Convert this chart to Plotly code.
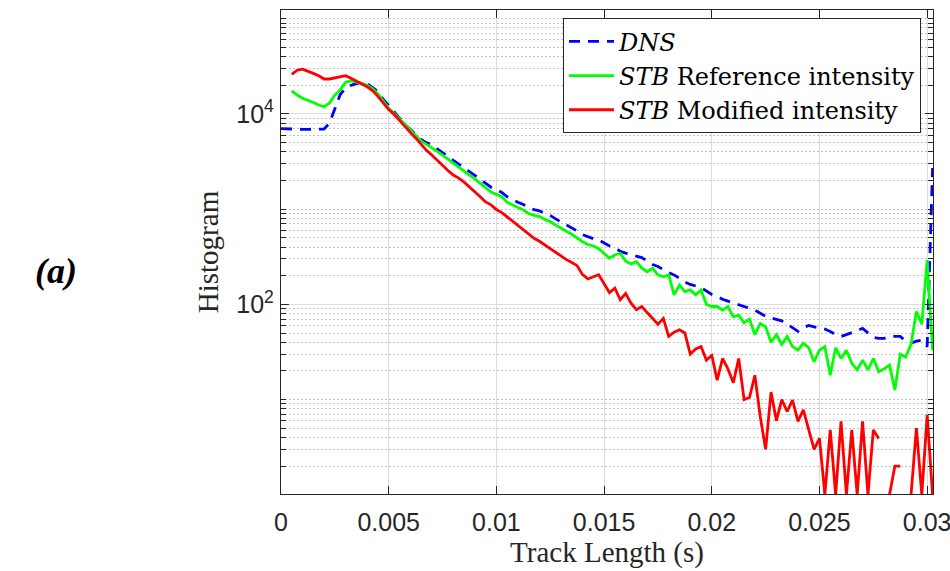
import numpy as np
import plotly.graph_objects as go

# bin centres of the track-length histogram (s)
bin_width = 0.00025
track_length = np.arange(122) * bin_width

dns = [
    7000, 6950, 6900, 6950, 6900, 6900, 6950, 6900, 6950, 8000,
    11500, 16000, 18800, 20000, 20800, 21700, 20800, 19000, 17200, 14200,
    12200, 10500, 9100, 7800, 6900, 6100, 5400, 5000, 4750, 4300,
    3950, 3600, 3250, 2950, 2680, 2480, 2270, 2050, 1880, 1700,
    1600, 1500, 1350, 1250, 1180, 1120, 1030, 990, 960, 900,
    860, 790, 735, 690, 640, 590, 540, 510, 490, 475,
    445, 410, 395, 360, 345, 335, 325, 310, 285, 262,
    250, 232, 215, 204, 188, 172, 162, 155, 150, 138,
    127, 122, 113, 108, 103, 99, 95, 91, 87, 80,
    75, 72, 70, 67, 62, 57, 52, 57, 60, 58,
    56, 55, 52, 48, 46, 48, 50, 53, 56, 50,
    45, 44, 44, 46, 46, 46, 41, 39, 41, 42,
    36, 2700,
]

stb_reference = [
    None, None, 17500, 15800, 14600, 14000, 13200, 12400, 11900, 13000,
    15800, 17900, 21500, 22300, 21800, 21000, 20000, 18500, 16200, 13500,
    11500, 10200, 8900, 7650, 6700, 5950, 5200, 4800, 4450, 4050,
    3700, 3350, 3050, 2750, 2480, 2280, 2080, 1870, 1700, 1510,
    1430, 1350, 1180, 1100, 1040, 980, 900, 860, 835, 780,
    740, 680, 625, 585, 545, 495, 455, 425, 410, 385,
    345, 305, 330, 344, 285, 266, 280, 240, 220, 239,
    204, 195, 204, 126, 160, 136, 142, 126, 142, 100,
    95, 95, 87, 95, 74, 77, 64, 70, 48, 63,
    58, 40, 48, 38, 46, 36, 33, 39, 35, 25,
    33, 36, 18, 35, 27, 33, 24, 20.5, 26, 20.5,
    27, 19.6, 21, 23, 12.6, 30, 28, 38, 84, 62,
    292, 33,
]

stb_modified = [
    None, None, 26100, 28800, 29500, 28300, 26700, 25200, 23300, 23300,
    23900, 24400, 25200, 23700, 21900, 20600, 19300, 17600, 15300, 13000,
    11100, 9900, 8500, 7400, 6400, 5600, 4850, 4150, 3700, 3250,
    2850, 2550, 2280, 2120, 1920, 1720, 1530, 1350, 1190, 1110,
    990, 920, 830, 750, 680, 620, 560, 495, 460, 420,
    390, 358, 325, 295, 275, 255, 205, 185, 195, 205,
    165, 133, 148, 112, 130, 103, 88, 95, 82, 72,
    62, 71, 46, 51, 54, 50, 30, 34, 36, 26,
    29, 16, 27, 21, 15, 27, 10, 10.5, 18, 6.6,
    3, 12, 6, 10, 7.5, 9.9, 5.9, 7.8, 4.8, 3,
    3.9, 1, 4.8, 1, 5.9, 1, 4.8, 1, 5.9, 1,
    4.8, 3.9, None, 1, 2, 2, None, 1, 5, 1,
    6.9, 1,
]

x_ticks = [0, 0.005, 0.01, 0.015, 0.02, 0.025, 0.03]
x_tick_labels = ["0", "0.005", "0.01", "0.015", "0.02", "0.025", "0.03"]
y_ticks = [1e2, 1e4]
y_tick_labels = ["10<sup>2</sup>", "10<sup>4</sup>"]
y_minor = [m * 10.0 ** d for d in range(0, 6) for m in range(1, 10)
           if m * 10.0 ** d not in (1, 1e2, 1e4)]

axis_col = "#262626"
tick_font = dict(family="Liberation Sans, Arial", size=25, color=axis_col)
serif = "Liberation Serif, Times New Roman, serif"

fig = go.Figure()
fig.add_trace(go.Scatter(x=track_length, y=dns, mode="lines", name="<i>DNS</i>",
                         line=dict(color="#0000FF", width=2.8, dash="11px,8px")))
fig.add_trace(go.Scatter(x=track_length, y=stb_reference, mode="lines",
                         name="<i>STB</i> Reference intensity",
                         line=dict(color="#00FF00", width=2.8)))
fig.add_trace(go.Scatter(x=track_length, y=stb_modified, mode="lines",
                         name="<i>STB</i> Modified intensity",
                         line=dict(color="#FF0000", width=2.8)))

fig.update_xaxes(
    range=[0, 0.03027], tickvals=x_ticks, ticktext=x_tick_labels,
    ticks="inside", ticklen=8, tickcolor=axis_col, tickfont=tick_font,
    showline=True, linecolor=axis_col, linewidth=1.3, mirror="allticks",
    showgrid=True, gridcolor="#dcdcdc", gridwidth=1, zeroline=False,
    ticklabelstandoff=6, ticklabeloverflow="allow", automargin=False,
    title=dict(text="Track Length (s)", font=dict(family=serif, size=29, color=axis_col),
               standoff=3),
)
fig.update_yaxes(
    type="log", range=[0.008, 5.092], tickvals=y_ticks, ticktext=y_tick_labels,
    ticks="inside", ticklen=8, tickcolor=axis_col, tickfont=tick_font,
    showline=True, linecolor=axis_col, linewidth=1.3, mirror="allticks",
    showgrid=True, gridcolor="#dcdcdc", gridwidth=1, zeroline=False,
    ticklabelstandoff=1, automargin=False,
    minor=dict(tickvals=y_minor, ticks="inside", ticklen=5, tickcolor=axis_col,
               showgrid=True, gridcolor="#c4c4c4", griddash="2px,2px", gridwidth=1),
    title=dict(text="Histogram", font=dict(family=serif, size=29, color=axis_col),
               standoff=9),
)

fig.add_annotation(text="<b><i>(a)</i></b>", xref="paper", yref="paper",
                   x=-0.345, y=0.461, xanchor="center", yanchor="middle",
                   showarrow=False, font=dict(family=serif, size=36, color="black"))

fig.update_layout(
    width=950, height=571,
    margin=dict(l=281, r=17, t=10, b=77),
    paper_bgcolor="white", plot_bgcolor="white",
    legend=dict(x=0.4325, y=0.983, xanchor="left", yanchor="top",
                bgcolor="white", bordercolor=axis_col, borderwidth=1,
                font=dict(family="DejaVu Serif, serif", size=24, color="black"),
                tracegroupgap=0, itemwidth=45),
)

# drop the page's default body margin so the figure sits at the window origin
fig.write_html("out.html", config={"displayModeBar": False},
               post_script="document.body.style.margin = '0';")
